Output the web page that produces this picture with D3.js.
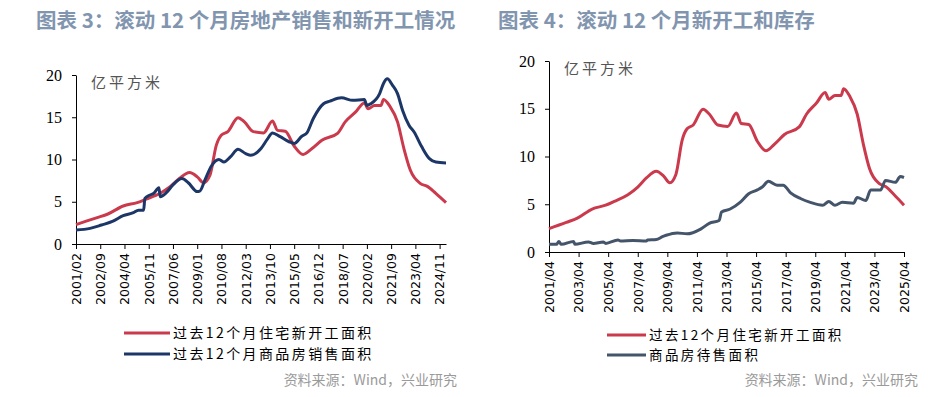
<!DOCTYPE html>
<html>
<head>
<meta charset="utf-8">
<script src="https://cdn.jsdelivr.net/npm/d3@7"></script>
<style>
body { margin: 0; background: #fff; }
svg { display: block; }
</style>
</head>
<body>
<svg id="chart" width="950" height="397"></svg>
<script>
// 过去12个月住宅新开工面积 (亿平方米)
var startsDates = ["2001/02","2002/06","2003/03","2004/03","2005/02","2005/09","2006/08","2007/04","2007/11","2008/07",
  "2009/01","2009/06","2009/11","2010/04","2010/08","2011/01","2011/09","2012/02","2012/09","2013/05",
  "2013/12","2014/04","2014/10","2015/05","2015/12","2016/07","2017/03","2018/03","2018/09","2019/05",
  "2019/12","2020/03","2020/08","2021/01","2021/03","2021/08","2022/02","2022/07","2022/12","2023/08",
  "2024/01","2024/08","2025/04"];
var startsValues = [2.3,3.1,3.55,4.5,4.9,5.3,6.0,6.8,7.75,8.45,
  7.95,7.25,8.15,11.7,12.9,13.3,14.95,14.45,13.3,13.15,
  14.55,13.45,13.35,11.6,10.6,11.3,12.3,13.1,14.45,15.6,
  16.7,16.0,16.4,16.4,17.1,16.3,14.45,11.3,8.75,7.15,
  6.85,6.0,4.9];

// 过去12个月商品房销售面积
var salesDates = ["2001/02","2002/01","2002/10","2003/07","2004/03","2004/11","2005/03","2005/07","2005/08","2005/12",
  "2006/03","2006/07","2006/08","2007/01","2007/06","2008/01","2008/06","2009/01","2009/03","2009/07",
  "2009/12","2010/06","2010/10","2011/03","2011/09","2012/03","2012/07","2013/03","2013/08","2013/12",
  "2014/06","2015/01","2015/05","2015/11","2016/03","2016/08","2017/04","2017/09","2018/06","2019/03",
  "2019/12","2020/02","2020/05","2020/12","2021/03","2021/06","2021/10","2022/02","2022/06","2022/11",
  "2023/03","2023/09","2024/03","2024/08","2025/04"];
var salesValues = [1.65,1.85,2.25,2.7,3.35,3.7,4.0,4.0,5.4,5.8,
  6.0,6.65,5.6,6.1,7.0,7.75,7.25,6.2,6.25,7.55,
  9.2,10.0,9.7,10.3,11.2,10.7,10.5,11.3,12.4,13.15,
  12.7,12.1,11.9,12.75,13.15,14.85,16.6,16.9,17.3,17.0,
  17.1,16.4,16.6,17.8,19.0,19.55,18.8,17.8,15.8,14.05,
  13.25,11.5,10.1,9.7,9.6];

// 商品房待售面积
var stockDates = ["2001/04","2001/10","2001/12","2002/02","2002/12","2003/01","2003/12","2004/04","2004/12","2005/02",
  "2005/12","2006/02","2006/12","2007/11","2007/12","2008/07","2008/12","2009/03","2009/12","2010/08",
  "2011/07","2012/02","2012/10","2012/12","2013/07","2014/03","2014/10","2015/05","2015/09","2016/02",
  "2016/09","2017/02","2017/08","2018/04","2018/12","2019/10","2020/03","2020/08","2021/02","2021/11",
  "2022/02","2022/09","2023/01","2023/09","2024/01","2024/09","2025/01","2025/04"];
var stockValues = [0.8,0.8,1.1,0.8,1.1,0.8,1.05,0.9,1.05,0.9,
  1.25,1.15,1.2,1.15,1.25,1.3,1.6,1.75,2.0,1.9,
  2.4,3.0,3.3,4.2,4.5,5.2,6.1,6.5,6.8,7.4,
  7.0,7.0,6.2,5.6,5.2,4.9,5.3,4.9,5.2,5.1,
  5.7,5.4,6.5,6.5,7.5,7.3,7.9,7.8];

var leftTicks = ["2001/02","2002/09","2004/04","2005/11","2007/06","2009/01","2010/08","2012/03",
  "2013/10","2015/05","2016/12","2018/07","2020/02","2021/09","2023/04","2024/11"];
var rightTicks = ["2001/04","2003/04","2005/04","2007/04","2009/04","2011/04","2013/04","2015/04",
  "2017/04","2019/04","2021/04","2023/04","2025/04"];
var yTicks = [0, 5, 10, 15, 20];

var RED = "#CA3A4C", NAVY = "#1C3767", SLATE = "#44546A";

function monthIdx(s) {
  var p = s.split("/");
  return (+p[0]) * 12 + (+p[1] - 1);
}

var svg = d3.select("#chart");

function drawPanel(cfg) {
  var g = svg.append("g");

  g.append("text")
    .attr("x", cfg.titleX).attr("y", 28)
    .style("font-family", "'Noto Sans CJK SC', sans-serif")
    .style("font-size", "20.5px")
    .style("font-weight", "bold")
    .style("fill", "#8295AF")
    .text(cfg.title);

  var x = d3.scaleLinear()
    .domain([monthIdx(cfg.start), monthIdx(cfg.end)])
    .range([cfg.x0, cfg.x1]);
  var y = d3.scaleLinear().domain([0, 20]).range([cfg.y0, cfg.y1]);

  var yAxis = g.append("g")
    .attr("transform", "translate(" + cfg.x0 + ",0)")
    .call(d3.axisLeft(y).tickValues(yTicks).tickSize(4).tickSizeOuter(0).tickPadding(10));
  yAxis.selectAll("text")
    .style("font-family", "'Liberation Serif', serif")
    .style("font-size", "16px")
    .style("fill", "#000");

  var xAxis = g.append("g")
    .attr("transform", "translate(0," + cfg.y0 + ")")
    .call(d3.axisBottom(x)
      .tickValues(cfg.ticks.map(monthIdx))
      .tickFormat(function(d, i) { return cfg.ticks[i]; })
      .tickSize(5).tickSizeOuter(0));
  xAxis.selectAll("text")
    .attr("transform", "rotate(-90)")
    .attr("text-anchor", "end")
    .attr("x", -9).attr("y", 0).attr("dy", "0.35em")
    .style("font-family", "'DejaVu Sans', sans-serif")
    .style("font-size", "12.5px")
    .style("fill", "#000");
  g.selectAll(".domain, .tick line").attr("stroke", "#000");

  g.append("text")
    .attr("x", cfg.x0 + 15).attr("y", cfg.y1 + 13)
    .style("font-family", "'Noto Sans CJK SC', sans-serif")
    .style("font-size", "15px")
    .style("letter-spacing", "3px")
    .style("fill", "#555")
    .text("亿平方米");

  var line = d3.line()
    .x(function(d) { return x(monthIdx(d[0])); })
    .y(function(d) { return y(d[1]); })
    .curve(d3.curveMonotoneX);

  var lo = monthIdx(cfg.start);
  cfg.series.forEach(function(s) {
    var pts = d3.zip(s.dates, s.values).filter(function(d) { return monthIdx(d[0]) >= lo; });
    if (monthIdx(s.dates[0]) < lo) {
      // 起点落在区间之外时用区间起点处的读数
      pts.unshift([cfg.start, s.first]);
    }
    g.append("path")
      .datum(pts)
      .attr("fill", "none")
      .attr("stroke", s.color)
      .attr("stroke-width", 3)
      .attr("stroke-linejoin", "round")
      .attr("d", line);
  });

  cfg.series.forEach(function(s, i) {
    var ly = cfg.legendY + i * cfg.legendGap;
    g.append("line")
      .attr("x1", cfg.legendX).attr("x2", cfg.legendX + cfg.legendLen)
      .attr("y1", ly).attr("y2", ly)
      .attr("stroke", s.color).attr("stroke-width", 3);
    g.append("text")
      .attr("x", cfg.legendX + cfg.legendLen + 3).attr("y", ly + 5)
      .style("font-family", "'Noto Sans CJK SC', sans-serif")
      .style("font-size", cfg.legendFont)
      .style("letter-spacing", "2.4px")
      .style("fill", "#000")
      .text(s.name);
  });

  g.append("text")
    .attr("x", cfg.sourceX).attr("y", 385)
    .attr("text-anchor", "end")
    .style("font-family", "'Noto Sans CJK SC', sans-serif")
    .style("font-size", "14px")
    .style("fill", "#9a9a9a")
    .text("资料来源：Wind，兴业研究");
}

drawPanel({
  title: "图表 3：滚动 12 个月房地产销售和新开工情况",
  titleX: 36,
  start: "2001/02", end: "2025/04",
  x0: 76, x1: 446, y0: 244, y1: 75,
  ticks: leftTicks,
  series: [
    { name: "过去12个月住宅新开工面积", dates: startsDates, values: startsValues, color: RED },
    { name: "过去12个月商品房销售面积", dates: salesDates, values: salesValues, color: NAVY }
  ],
  legendX: 124, legendLen: 46, legendY: 333, legendGap: 21, legendFont: "14px",
  sourceX: 457
});

drawPanel({
  title: "图表 4：滚动 12 个月新开工和库存",
  titleX: 498,
  start: "2001/04", end: "2025/04",
  x0: 549, x1: 904, y0: 252, y1: 61,
  ticks: rightTicks,
  series: [
    { name: "过去12个月住宅新开工面积", dates: startsDates, values: startsValues, color: RED, first: 2.45 },
    { name: "商品房待售面积", dates: stockDates, values: stockValues, color: SLATE }
  ],
  legendX: 607, legendLen: 39, legendY: 335, legendGap: 20, legendFont: "13.5px",
  sourceX: 918
});
</script>
</body>
</html>
